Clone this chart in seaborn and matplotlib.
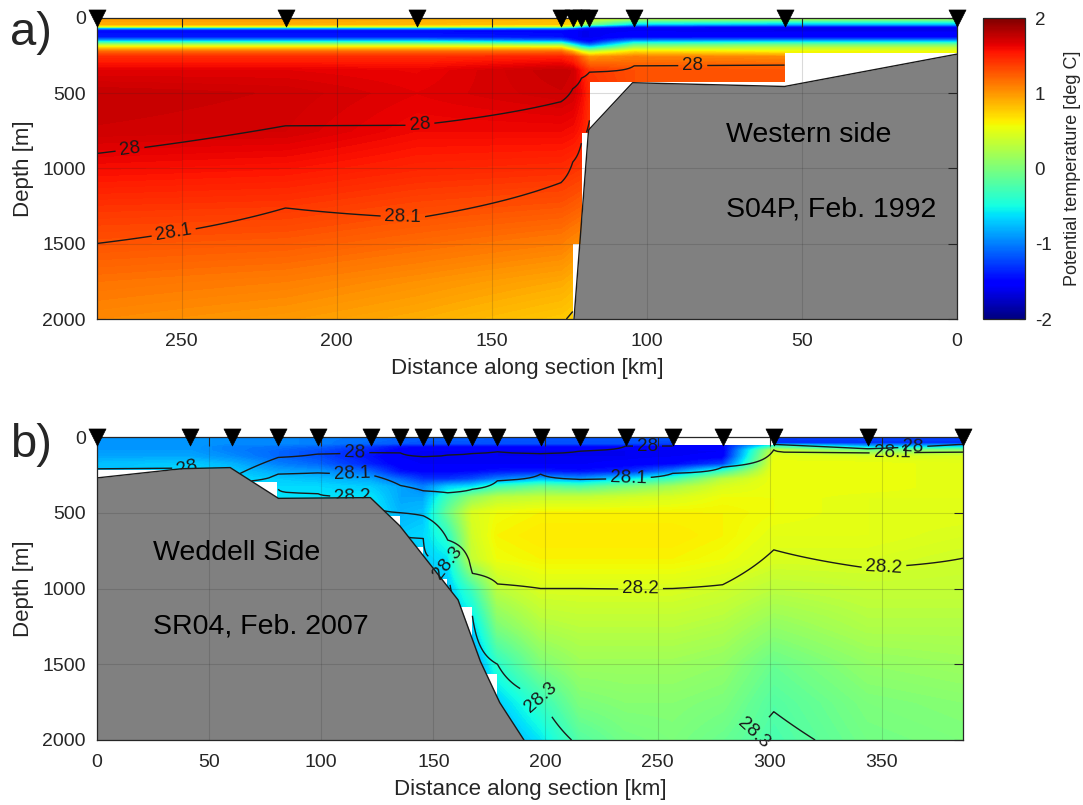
import numpy as np
import matplotlib
matplotlib.use("Agg")
import matplotlib.pyplot as plt
from matplotlib.colors import Normalize
from matplotlib.cm import ScalarMappable
import seaborn as sns

nan = np.nan

# ---------------- S04P, Feb. 1992 (western side) ----------------
sta_a = [277.3, 216.5, 174.2, 127.7, 123.9, 121.1, 118.5, 104.0, 55.6, 0.0]
top_a = [0, 0, 0, 0, 0, 0, 0, 0, 0, 0]
bottom_a = [2000, 2000, 2000, 2000, 2000, 1500, 760, 420, 440, 225]
zlev_a = [0, 40, 55, 65, 80, 130, 150, 165, 180, 200, 225, 260, 350,
          500, 750, 1000, 1250, 1500, 1750, 2000]
# potential temperature [deg C]; rows follow zlev_a, columns follow sta_a
temp_a = [
    [0.95, 0.95, 0.90, 0.85, 0.80, 0.60, 0.45, 0.30, 0.25, 0.20],
    [0.90, 0.90, 0.85, 0.80, 0.70, 0.30, 0.00, -0.70, -0.80, -0.80],
    [0.50, 0.45, 0.40, 0.30, 0.00, -0.60, -1.00, -1.40, -1.45, -1.45],
    [-0.80, -0.80, -0.80, -0.90, -1.10, -1.35, -1.45, -1.55, -1.60, -1.60],
    [-1.50, -1.50, -1.50, -1.50, -1.55, -1.60, -1.60, -1.60, -1.62, -1.62],
    [-1.40, -1.40, -1.40, -1.45, -1.55, -1.60, -1.60, -1.50, -1.50, -1.50],
    [-0.90, -0.90, -0.90, -1.10, -1.40, -1.50, -1.55, -1.05, -1.00, -1.00],
    [-0.30, -0.30, -0.30, -0.50, -1.00, -1.30, -1.40, -0.55, -0.45, -0.45],
    [0.25, 0.25, 0.25, 0.10, -0.50, -0.90, -1.10, -0.15, -0.05, -0.05],
    [0.75, 0.75, 0.75, 0.70, 0.20, -0.30, -0.50, 0.25, 0.30, 0.30],
    [1.20, 1.20, 1.20, 1.20, 0.90, 0.50, 0.30, 0.70, 0.60, 0.55],
    [1.45, 1.45, 1.45, 1.50, 1.40, 1.20, 1.00, 1.10, 1.05, nan],
    [1.65, 1.65, 1.62, 1.75, 1.72, 1.55, 1.40, 1.30, 1.30, nan],
    [1.75, 1.72, 1.65, 1.72, 1.70, 1.60, 1.45, nan, nan, nan],
    [1.72, 1.70, 1.60, 1.60, 1.58, 1.52, 1.40, nan, nan, nan],
    [1.58, 1.55, 1.48, 1.45, 1.42, 1.40, nan, nan, nan, nan],
    [1.42, 1.40, 1.33, 1.28, 1.25, 1.22, nan, nan, nan, nan],
    [1.28, 1.25, 1.18, 1.10, 1.05, 1.02, nan, nan, nan, nan],
    [1.15, 1.10, 1.02, 0.92, 0.88, nan, nan, nan, nan, nan],
    [1.05, 0.98, 0.90, 0.78, 0.75, nan, nan, nan, nan, nan],
]
# depth [m] of the neutral density surfaces at each station
iso_a = {
    28.0: [900, 716, 712, 556, 470, 400, 360, 316, 311, nan],
    28.1: [1498, 1262, 1329, 1094, 957, 831, 680, nan, nan, nan],
    28.2: [nan, nan, nan, 2040, 1950, 1800, 1500, nan, nan, nan],
}
bathy_km_a = [123.5, 118.8, 104.6, 55.6, 0.0]
bathy_z_a = [2000, 744, 430, 455, 240]
labels_a = [(266.8, 851), (173.2, 704), (85.2, 319), (252.6, 1422), (178.7, 1336)]

# ---------------- SR04, Feb. 2007 (Weddell side) ----------------
sta_b = [0.0, 41.5, 60.0, 80.8, 98.4, 122.0, 135.3, 145.5, 156.4, 167.4,
         178.6, 197.8, 215.5, 235.7, 256.7, 279.0, 301.8, 343.8, 386.2]
top_b = [0, 0, 0, 0, 0, 0, 0, 0, 0, 0, 0, 0, 0, 0, 0, 60, 0, 0, 0]
bottom_b = [215, 300, 292, 410, 410, 518, 720, 936, 1120, 1560,
            2000, 2000, 2000, 2000, 2000, 2000, 2000, 2000, 2000]
zlev_b = [0, 40, 60, 90, 130, 180, 230, 280, 330, 400, 500, 650, 800,
          1000, 1250, 1500, 1750, 2000]
temp_b = [
    [-0.90, -0.90, -0.95, -0.95, -1.00, -1.05, -1.10, -1.12, -1.12, -1.12, -1.15, -1.15, -1.15, -1.15, -1.15, nan, -1.25, -1.25, -1.25],
    [-0.90, -0.90, -0.95, -0.95, -1.00, -1.10, -1.15, -1.18, -1.18, -1.18, -1.20, -1.20, -1.20, -1.20, -1.25, nan, -1.35, -1.30, -1.30],
    [-0.90, -0.90, -1.00, -1.05, -1.10, -1.30, -1.45, -1.48, -1.48, -1.50, -1.50, -1.50, -1.50, -1.50, -1.52, -1.50, -0.40, -0.90, -0.80],
    [-0.90, -0.90, -1.00, -1.10, -1.20, -1.40, -1.55, -1.58, -1.58, -1.58, -1.60, -1.60, -1.60, -1.60, -1.60, -1.58, 0.35, 0.00, 0.10],
    [-0.85, -0.85, -0.95, -1.10, -1.20, -1.45, -1.58, -1.60, -1.60, -1.60, -1.60, -1.60, -1.60, -1.60, -1.58, -1.55, 0.50, 0.45, 0.45],
    [-0.75, -0.70, -0.80, -1.00, -1.10, -1.38, -1.55, -1.58, -1.58, -1.58, -1.58, -1.58, -1.58, -1.55, -1.50, -1.25, 0.55, 0.55, 0.50],
    [nan, -0.65, -0.70, -0.85, -0.90, -1.10, -1.45, -1.50, -1.50, -1.48, -1.42, -1.40, -1.45, -1.35, -1.00, -0.30, 0.55, 0.55, 0.50],
    [nan, -0.60, -0.65, -0.70, -0.75, -0.85, -1.10, -1.30, -1.30, -1.20, -1.00, -0.80, -0.90, -0.60, -0.30, 0.30, 0.55, 0.55, 0.50],
    [nan, nan, nan, -0.65, -0.65, -0.70, -0.85, -1.00, -0.70, -0.60, -0.30, -0.10, -0.20, 0.00, 0.20, 0.45, 0.55, 0.55, 0.50],
    [nan, nan, nan, -0.60, -0.60, -0.60, -0.85, -0.85, -0.30, 0.10, 0.30, 0.35, 0.35, 0.40, 0.45, 0.55, 0.55, 0.50, 0.50],
    [nan, nan, nan, nan, nan, -0.55, -0.80, -0.75, -0.10, 0.45, 0.55, 0.60, 0.60, 0.60, 0.60, 0.60, 0.55, 0.50, 0.50],
    [nan, nan, nan, nan, nan, nan, -0.70, -0.65, -0.40, 0.40, 0.60, 0.65, 0.65, 0.65, 0.65, 0.60, 0.50, 0.50, 0.45],
    [nan, nan, nan, nan, nan, nan, nan, -0.70, -0.60, 0.35, 0.55, 0.60, 0.60, 0.60, 0.60, 0.55, 0.45, 0.45, 0.40],
    [nan, nan, nan, nan, nan, nan, nan, nan, -0.75, -0.30, 0.30, 0.45, 0.45, 0.45, 0.45, 0.40, 0.30, 0.35, 0.35],
    [nan, nan, nan, nan, nan, nan, nan, nan, nan, -0.70, 0.00, 0.25, 0.30, 0.30, 0.30, 0.25, 0.10, 0.25, 0.25],
    [nan, nan, nan, nan, nan, nan, nan, nan, nan, -0.95, -0.40, 0.00, 0.15, 0.15, 0.15, 0.10, -0.10, 0.10, 0.15],
    [nan, nan, nan, nan, nan, nan, nan, nan, nan, nan, -0.70, -0.35, 0.00, 0.05, 0.05, 0.00, -0.20, 0.00, 0.05],
    [nan, nan, nan, nan, nan, nan, nan, nan, nan, nan, -0.90, -0.60, -0.20, -0.05, 0.00, -0.10, -0.25, -0.05, 0.00],
]
iso_b = {
    28.0: [210, 205, 270, 135, 112, 102, 105, 130, 118, 108, 96, 110, 92, 60, 58, 55, 49, 78, 48],
    28.1: [nan, nan, 300, 245, 237, 250, 320, 355, 368, 345, 288, 245, 280, 275, 240, 198, 85, 105, 98],
    28.2: [nan, nan, nan, 345, 372, 395, 500, 520, 680, 900, 970, 1000, 1000, 1003, 1000, 975, 745, 865, 800],
    28.3: [nan, nan, nan, nan, nan, nan, 600, 670, 815, 1180, 1500, 1720, 2050, 2200, 2200, 2100, 1813, 2200, 2300],
}
bathy_km_b = [0.0, 38.0, 59.4, 80.9, 121.9, 135.0, 156.6, 161.0, 171.0, 179.6, 190.4]
bathy_z_b = [270, 209, 202, 405, 400, 586, 992, 1075, 1482, 1753, 2000]
labels_b = [(40.0, 200), (115.0, 118), (245.5, 62), (363.8, 60),
            (113.8, 240), (237.0, 270), (354.5, 112),
            (114.0, 385), (242.4, 1000), (350.9, 845),
            (156.0, 830), (197.8, 1720), (293.0, 1960)]

sigma_levels = [28.0, 28.1, 28.2, 28.3]
zgrid = np.arange(0, 2001, 5.0)

sns.set_theme(style="white")
plt.rcParams["font.family"] = ["Liberation Sans", "DejaVu Sans"]
plt.rcParams["axes.unicode_minus"] = False
INK = "#262626"


def profiles_on_grid(zlev, table):
    table = np.asarray(table, float)
    zlev = np.asarray(zlev, float)
    out = np.empty((len(zgrid), table.shape[1]))
    for j in range(table.shape[1]):
        ok = ~np.isnan(table[:, j])
        out[:, j] = np.interp(zgrid, zlev[ok], table[ok, j])
    return out


def density_on_grid(iso, n):
    out = np.empty((len(zgrid), n))
    for j in range(n):
        d, v = [0.0], [27.8]
        for lev in sorted(iso):
            dj = iso[lev][j]
            if not np.isnan(dj):
                d.append(dj)
                v.append(lev)
        d.append(5000.0)
        v.append(28.5)
        out[:, j] = np.interp(zgrid, d, v)
    return out


def draw_section(ax, sta, top, bottom, zlev, temp, iso, bkm, bz, label_pos):
    sta = np.asarray(sta, float)
    order = np.argsort(sta)
    x = sta[order]
    T = profiles_on_grid(zlev, temp)[:, order]
    S = density_on_grid(iso, len(sta))[:, order]
    bot = np.asarray(bottom, float)[order]
    tp = np.asarray(top, float)[order]
    Z = zgrid[:, None]
    mask = (Z > bot[None, :]) | (Z < tp[None, :])
    T = np.ma.array(T, mask=mask)
    S = np.ma.array(S, mask=mask)

    cf = ax.contourf(x, zgrid, T, levels=np.linspace(-2, 2, 161), cmap="jet",
                     extend="both", corner_mask=False, zorder=0.5)
    cf.set_edgecolor("face")
    cf.set_linewidth(0.3)
    cs = ax.contour(x, zgrid, S, levels=sigma_levels, colors="k",
                    linewidths=1.0, corner_mask=False, zorder=1.0)
    ax.clabel(cs, manual=label_pos, inline=True, fmt="%g", fontsize=13.5,
              inline_spacing=4, zorder=1.2)
    for t in cs.labelTexts:
        t.set_clip_on(False)
        # the deepest isopycnal label sits against the slope and stays on top
        if t.get_text() == "28.3":
            t.set_zorder(1.8)

    ax.fill_between(bkm, bz, 2000, color="#808080", lw=0, zorder=1.5)
    ax.plot(bkm, bz, color="k", lw=1.0, zorder=1.6)

    sns.scatterplot(x=sta, y=np.zeros(len(sta)), marker="v", s=150,
                    color="black", edgecolor="black", linewidth=0.5,
                    clip_on=False, zorder=10, legend=False, ax=ax)

    ax.set_ylim(2000, 0)
    ax.set_yticks([0, 500, 1000, 1500, 2000])
    ax.grid(True, color=INK, alpha=0.17, lw=0.8)
    ax.set_axisbelow(False)
    ax.tick_params(direction="in", length=6.5, width=0.8, color=INK,
                   top=True, right=True, labelsize=14, labelcolor=INK)
    ax.tick_params(axis="x", pad=10)
    ax.tick_params(axis="y", pad=8)
    for sp in ax.spines.values():
        sp.set_color(INK)
        sp.set_linewidth(0.9)
        sp.set_zorder(5)
    ax.set_xlabel("Distance along section [km]", fontsize=16, color=INK, labelpad=6)
    ax.set_ylabel("Depth [m]", fontsize=16, color=INK, labelpad=6)


W, H = 1083, 805
fig = plt.figure(figsize=(W / 100, H / 100), dpi=100)
ax_a = fig.add_axes([97 / W, 1 - 319 / H, (957 - 97) / W, (319 - 18) / H])
ax_b = fig.add_axes([97 / W, 1 - 740 / H, (963 - 97) / W, (740 - 437) / H])
cax = fig.add_axes([983 / W, 1 - 319 / H, 42 / W, (319 - 18) / H])

draw_section(ax_a, sta_a, top_a, bottom_a, zlev_a, temp_a, iso_a,
             bathy_km_a, bathy_z_a, labels_a)
ax_a.set_xlim(277.3, 0)
ax_a.set_xticks([250, 200, 150, 100, 50, 0])

draw_section(ax_b, sta_b, top_b, bottom_b, zlev_b, temp_b, iso_b,
             bathy_km_b, bathy_z_b, labels_b)
ax_b.set_xlim(0, 386.2)
ax_b.set_xticks([0, 50, 100, 150, 200, 250, 300, 350])

txt = dict(fontsize=20.5, color="black", ha="left", va="baseline", zorder=6)
ax_a.text(74.6, 824, "Western side", **txt)
ax_a.text(74.6, 1316, "S04P, Feb. 1992", **txt)
ax_b.text(25.1, 812, "Weddell Side", **txt)
ax_b.text(25.1, 1300, "SR04, Feb. 2007", **txt)

fig.text(10 / W, 1 - 45 / H, "a)", fontsize=34, va="baseline", ha="left")
fig.text(10 / W, 1 - 457 / H, "b)", fontsize=34, va="baseline", ha="left")

sm = ScalarMappable(norm=Normalize(-2, 2), cmap="jet")
cb = fig.colorbar(sm, cax=cax, ticks=[-2, -1, 0, 1, 2])
cb.ax.tick_params(direction="in", length=4.5, width=0.8, color=INK,
                  labelsize=13.5, labelcolor=INK, pad=7)
cb.outline.set_edgecolor(INK)
cb.outline.set_linewidth(0.9)
cb.set_label("Potential temperature [deg C]", fontsize=13, color=INK, labelpad=9)

fig.savefig("out.png", dpi=100)
